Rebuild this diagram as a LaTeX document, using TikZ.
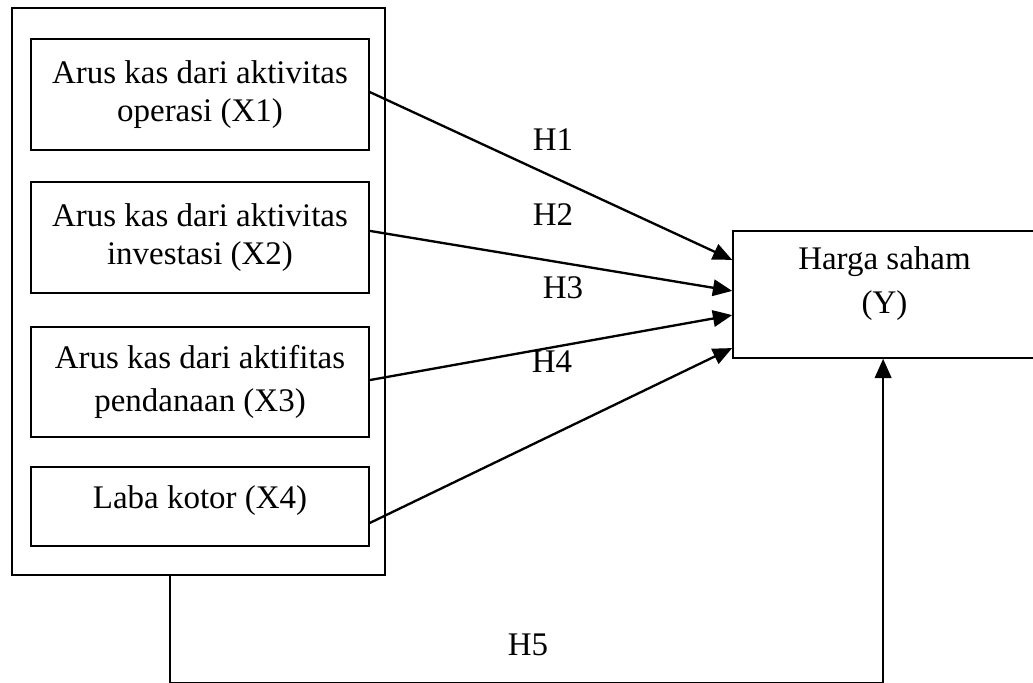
\documentclass[tikz,border=0pt]{standalone}
\usepackage{fontspec}
\setmainfont{Liberation Serif}
\usetikzlibrary{arrows.meta}

\tikzset{
  kotak/.style={draw, line width=0.6pt, align=center, inner sep=0pt,
    font=\fontsize{12}{14}\selectfont},
  panah/.style={line width=0.85pt, -{Triangle[length=7pt,width=6pt]}},
  hip/.style={font=\fontsize{12}{14}\selectfont}
}

\begin{document}
\begin{tikzpicture}[x=0.364pt, y=-0.364pt]
  \useasboundingbox (0,0) rectangle (1033,683);
  % kotak luar
  \node[kotak, minimum width=135.8pt, minimum height=206.4pt] (luar) at (198.5,291.5) {};
  % variabel independen
  \node[kotak, minimum width=123pt, minimum height=40.4pt] (x1) at (200,94.5)
    {Arus kas dari aktivitas\\operasi (X1)};
  \node[kotak, minimum width=123pt, minimum height=40.4pt] (x2) at (200,237.5)
    {Arus kas dari aktivitas\\investasi (X2)};
  \node[kotak, minimum width=123pt, minimum height=40pt] (x3) at (200,382)
    {Arus kas dari aktifitas\\[1.5pt]pendanaan (X3)};
  \node[kotak, minimum width=123pt, minimum height=28.8pt] (x4) at (200,506.5)
    {Laba kotor (X4)\\[-11pt]\strut};
  % variabel dependen
  \node[kotak, minimum width=110.3pt, minimum height=46.2pt] (yb) at (884.5,294.5)
    {Harga saham\\[2pt](Y)\\[-8pt]\strut};
  % hubungan
  \draw[panah] ([yshift=0.9pt]x1.east) -- ([yshift=12.6pt]yb.west);
  \draw[panah] ([yshift=2.4pt]x2.east) -- ([yshift=1.3pt]yb.west);
  \draw[panah] ([yshift=0.7pt]x3.east) -- ([yshift=-7.5pt]yb.west);
  \draw[panah] ([yshift=-6pt]x4.east) -- ([yshift=-19.5pt]yb.west);
  \draw[panah] ([xshift=-10.4pt]luar.south) -- ++(0,107) -| ([xshift=-0.5pt]yb.south);
  % label
  \node[hip] (h1) at (553,140) {H1};
  \node[hip] (h2) at (553,215) {H2};
  \node[hip] (h3) at (563,288) {H3};
  \node[hip] (h4) at (552,362) {H4};
  \node[hip] (h5) at (528,645) {H5};
\end{tikzpicture}
\end{document}
